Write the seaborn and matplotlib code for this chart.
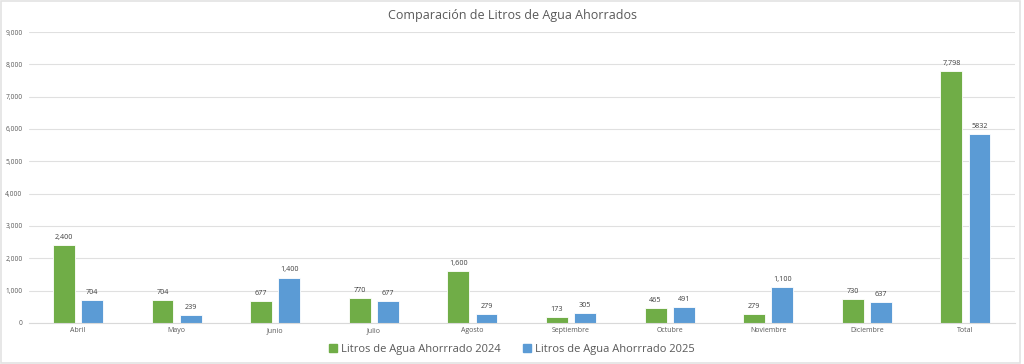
import matplotlib
matplotlib.use("Agg")
import matplotlib.pyplot as plt
import seaborn as sns
import pandas as pd
from matplotlib.patches import Rectangle

categories = ["Abril", "Mayo", "Junio", "Julio", "Agosto", "Septiembre",
              "Octubre", "Noviembre", "Diciembre", "Total"]
values_2024 = [2400, 704, 677, 770, 1600, 173, 465, 279, 730, 7798]
values_2025 = [704, 239, 1400, 677, 279, 305, 491, 1100, 637, 5832]
labels_2024 = ["2,400", "704", "677", "770", "1,600", "173", "465", "279", "730", "7,798"]
labels_2025 = ["704", "239", "1,400", "677", "279", "305", "491", "1,100", "637", "5832"]
series_names = ["Litros de Agua Ahorrrado 2024", "Litros de Agua Ahorrrado 2025"]
yticks = [0, 1000, 2000, 3000, 4000, 5000, 6000, 7000, 8000, 9000]

sns.set_theme(style="white")
plt.rcParams['font.family'] = ['Open Sans', 'DejaVu Sans']

df = pd.DataFrame({
    "cat": categories * 2,
    "val": values_2024 + values_2025,
    "serie": [series_names[0]] * len(categories) + [series_names[1]] * len(categories),
})

fig = plt.figure(figsize=(10.24, 3.64), dpi=100)
ax = fig.add_axes([0.028, 0.113, 0.963, 0.799])
palette = {series_names[0]: "#70AD47", series_names[1]: "#5B9BD5"}
sns.barplot(data=df, x="cat", y="val", hue="serie", palette=palette, ax=ax,
            width=0.57, gap=0.22, saturation=1, edgecolor="white", linewidth=0.6,
            legend=True)

for cont, labs in zip(ax.containers, [labels_2024, labels_2025]):
    ax.bar_label(cont, labels=labs, padding=3, fontsize=5.2, color="#404040")

ax.set_ylim(0, 9000)
ax.set_xlim(-0.5, len(categories) - 0.5)
ax.set_yticks(yticks)
ax.set_yticklabels([f"{v:,}" for v in yticks], fontsize=4.8, color="#595959")
ax.tick_params(axis="x", labelsize=5, colors="#595959", length=0, pad=3)
ax.tick_params(axis="y", length=0, pad=4.5)
ax.yaxis.grid(True, color="#E0E0E0", linewidth=0.8)
ax.set_axisbelow(True)
for s in ["top", "right", "left"]:
    ax.spines[s].set_visible(False)
ax.spines["bottom"].set_color("#D9D9D9")
ax.spines["bottom"].set_linewidth(0.8)
ax.set_xlabel("")
ax.set_ylabel("")

fig.text(0.5, 0.958, "Comparación de Litros de Agua Ahorrados", ha="center", va="center",
         fontsize=9, color="#595959")

ax.legend_.remove()
handles = [Rectangle((0, 0), 1, 1, color=palette[n]) for n in series_names]
fig.legend(handles, series_names, loc="center", bbox_to_anchor=(0.5, 0.04), ncol=2,
           frameon=False, fontsize=8, labelcolor="#595959", handlelength=0.7,
           handleheight=0.7, handletextpad=0.4, columnspacing=2.0)

fig.add_artist(Rectangle((0.001, 0.003), 0.995, 0.994, transform=fig.transFigure,
                         fill=False, edgecolor="#E3E3E3", linewidth=1.2))

fig.savefig("out.png", dpi=100)
